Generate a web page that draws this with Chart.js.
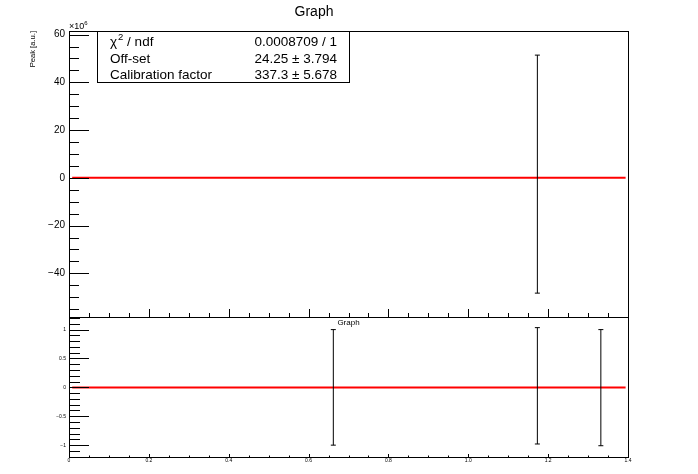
<!DOCTYPE html>
<html>
<head>
<meta charset="utf-8">
<script src="https://cdn.jsdelivr.net/npm/chart.js@4/dist/chart.umd.min.js"></script>
<style>
  body { margin: 0; background: #fff; }
  .pad { position: absolute; left: 0; top: 0; width: 698px; height: 474px; }
</style>
</head>
<body>
<canvas id="topPad" class="pad" width="698" height="474"></canvas>
<canvas id="bottomPad" class="pad" width="698" height="474"></canvas>
<script>
// energies of the calibration peaks (x axis) and the measured values
const peakEnergy = [1.173];
const peakValue = [1.55];     // x10^6
const peakError = [49.85];    // x10^6

// residual pad
const resEnergy = [0.662, 1.173, 1.332];
const resValue = [0, 0.027, -0.005];
const resError = [1.0, 1.007, 1.005];

// fitted line, drawn over the fit range
const fitX = [0.008, 1.394];
const fitTop = [0, 0];
const fitRes = [0, 0];

// tick labels
const topYTicks = [-40, -20, 0, 20, 40, 60];
const resYTicks = [-1, -0.5, 0, 0.5, 1];
const xTicks = [0, 0.2, 0.4, 0.6, 0.8, 1, 1.2, 1.4];

const statsLabels = ['χ', 'Off-set', 'Calibration factor'];
const statsValues = ['0.0008709 / 1', '24.25 ± 3.794', '337.3 ± 5.678'];

const FONT = '"Liberation Sans", Arial, Helvetica, sans-serif';
const minus = v => String(v).replace('-', '\u2212');
const fixTicks = list => s => { s.ticks = list.map(v => ({value: v})); };

// one small line dataset per point: vertical bar with flat caps
function errorBars(xs, ys, es) {
  return xs.map((x, i) => ({
    type: 'line',
    data: [{x: x, y: ys[i] - es[i]}, {x: x, y: ys[i] + es[i]}],
    borderColor: '#000',
    borderWidth: 1,
    pointStyle: 'line',
    pointRadius: 2.5,
    pointBorderWidth: 1,
    pointBorderColor: '#000',
    order: 0
  }));
}

function fitLine(ys) {
  return {
    type: 'line',
    data: fitX.map((x, i) => ({x: x, y: ys[i]})),
    borderColor: '#ff0000',
    borderWidth: 2,
    pointRadius: 0,
    order: 1
  };
}

// ROOT-like frame with ticks inside the frame
const rootFrame = {
  id: 'rootFrame',
  afterDatasetsDraw(chart, args, o) {
    const {ctx, chartArea: a, scales: {x, y}} = chart;
    ctx.save();
    ctx.strokeStyle = '#000';
    ctx.lineWidth = 1;
    ctx.beginPath();
    const eps = 1e-9;
    for (let v = Math.ceil(x.min / o.xMinor - eps) * o.xMinor; v <= x.max + eps; v += o.xMinor) {
      const px = Math.round(x.getPixelForValue(v)) + 0.5;
      const major = Math.abs(v / o.xMajor - Math.round(v / o.xMajor)) < 1e-6;
      ctx.moveTo(px, a.bottom);
      ctx.lineTo(px, a.bottom - (major ? o.xLen[0] : o.xLen[1]));
    }
    for (let v = Math.ceil(y.min / o.yMinor - eps) * o.yMinor; v <= y.max + eps; v += o.yMinor) {
      const py = Math.round(y.getPixelForValue(v)) + 0.5;
      const major = Math.abs(v / o.yMajor - Math.round(v / o.yMajor)) < 1e-6;
      ctx.moveTo(a.left, py);
      ctx.lineTo(a.left + (major ? o.yLen[0] : o.yLen[1]), py);
    }
    ctx.stroke();
    ctx.strokeRect(a.left + 0.5, a.top + 0.5, a.right - a.left, a.bottom - a.top);
    ctx.restore();
  }
};

// stats box and the x10^6 exponent on the upper pad
const topText = {
  id: 'topText',
  afterDraw(chart) {
    const {ctx, chartArea: a} = chart;
    ctx.save();
    ctx.fillStyle = '#000';
    ctx.textBaseline = 'alphabetic';
    ctx.font = '9px ' + FONT;
    ctx.textAlign = 'left';
    ctx.fillText('×10', a.left, a.top - 2);
    const w = ctx.measureText('×10').width;
    ctx.font = '6px ' + FONT;
    ctx.fillText('6', a.left + w, a.top - 6);

    const bx = 97, by = a.top, bw = 252, bh = 51;
    ctx.fillStyle = '#fff';
    ctx.fillRect(bx, by, bw, bh);
    ctx.strokeStyle = '#000';
    ctx.lineWidth = 1;
    ctx.strokeRect(bx + 0.5, by + 0.5, bw, bh);
    ctx.fillStyle = '#000';
    const rows = [by + 15, by + 31.5, by + 48];
    statsLabels.forEach((t, i) => {
      ctx.textAlign = 'left';
      ctx.font = '13.5px ' + FONT;
      ctx.fillText(t, 110, rows[i]);
      if (i === 0) {
        const cw = ctx.measureText(t).width;
        ctx.font = '9.5px ' + FONT;
        ctx.fillText('2', 110 + cw + 1, rows[i] - 6.5);
        const sw = ctx.measureText('2').width;
        ctx.font = '13.5px ' + FONT;
        ctx.fillText(' / ndf', 110 + cw + 1 + sw, rows[i]);
      }
      ctx.textAlign = 'right';
      ctx.fillText(statsValues[i], 337, rows[i]);
    });
    ctx.restore();
  }
};

const bottomText = {
  id: 'bottomText',
  afterDraw(chart) {
    const {ctx, chartArea: a} = chart;
    ctx.save();
    ctx.fillStyle = '#000';
    ctx.font = '8px ' + FONT;
    ctx.textAlign = 'center';
    ctx.textBaseline = 'middle';
    ctx.fillText('Graph', (a.left + a.right) / 2, a.top + 6);
    ctx.restore();
  }
};

const topChart = new Chart(document.getElementById('topPad'), {
  type: 'line',
  data: {datasets: [...errorBars(peakEnergy, peakValue, peakError), fitLine(fitTop)]},
  options: {
    responsive: false,
    devicePixelRatio: 1,
    animation: false,
    events: [],
    layout: {padding: {left: 0, right: 70, top: 0, bottom: 157}},
    plugins: {
      legend: {display: false},
      tooltip: {enabled: false},
      title: {
        display: true,
        text: 'Graph',
        color: '#000',
        font: {family: FONT, size: 14, weight: 'normal'},
        padding: {top: 3.5, bottom: 10.7}
      },
      rootFrame: {xMinor: 0.05, xMajor: 0.2, xLen: [8, 4], yMinor: 5, yMajor: 20, yLen: [20, 10]}
    },
    scales: {
      x: {type: 'linear', min: 0, max: 1.4, display: false},
      y: {
        type: 'linear', min: -58.3, max: 61.5,
        afterBuildTicks: fixTicks(topYTicks),
        afterFit: s => { s.width = 69; },
        grid: {display: false, drawTicks: false},
        border: {display: false},
        ticks: {
          padding: 4, color: '#000',
          font: {family: FONT, size: 10},
          callback: v => minus(v)
        },
        title: {
          display: true, text: 'Peak [a.u.]', align: 'end', color: '#000',
          font: {family: FONT, size: 7.6}, padding: {top: 28, bottom: 0}
        }
      }
    }
  },
  plugins: [rootFrame, topText]
});

const bottomChart = new Chart(document.getElementById('bottomPad'), {
  type: 'line',
  data: {datasets: [...errorBars(resEnergy, resValue, resError), fitLine(fitRes)]},
  options: {
    responsive: false,
    devicePixelRatio: 1,
    animation: false,
    events: [],
    layout: {padding: {left: 0, right: 70, top: 317, bottom: 0}},
    plugins: {
      legend: {display: false},
      tooltip: {enabled: false},
      rootFrame: {xMinor: 0.05, xMajor: 0.2, xLen: [3, 1.5], yMinor: 0.1, yMajor: 0.5, yLen: [20, 11]}
    },
    scales: {
      x: {
        type: 'linear', min: 0, max: 1.4,
        afterBuildTicks: fixTicks(xTicks),
        afterFit: s => { s.height = 17; },
        grid: {display: false, drawTicks: false},
        border: {display: false},
        ticks: {
          padding: 1, color: '#000', autoSkip: false, maxRotation: 0,
          font: {family: FONT, size: 5}
        }
      },
      y: {
        type: 'linear', min: -1.205, max: 1.218,
        afterBuildTicks: fixTicks(resYTicks),
        afterFit: s => { s.width = 69; },
        grid: {display: false, drawTicks: false},
        border: {display: false},
        ticks: {
          padding: 3, color: '#000',
          font: {family: FONT, size: 5},
          callback: v => minus(v)
        }
      }
    }
  },
  plugins: [rootFrame, bottomText]
});
</script>
</body>
</html>
